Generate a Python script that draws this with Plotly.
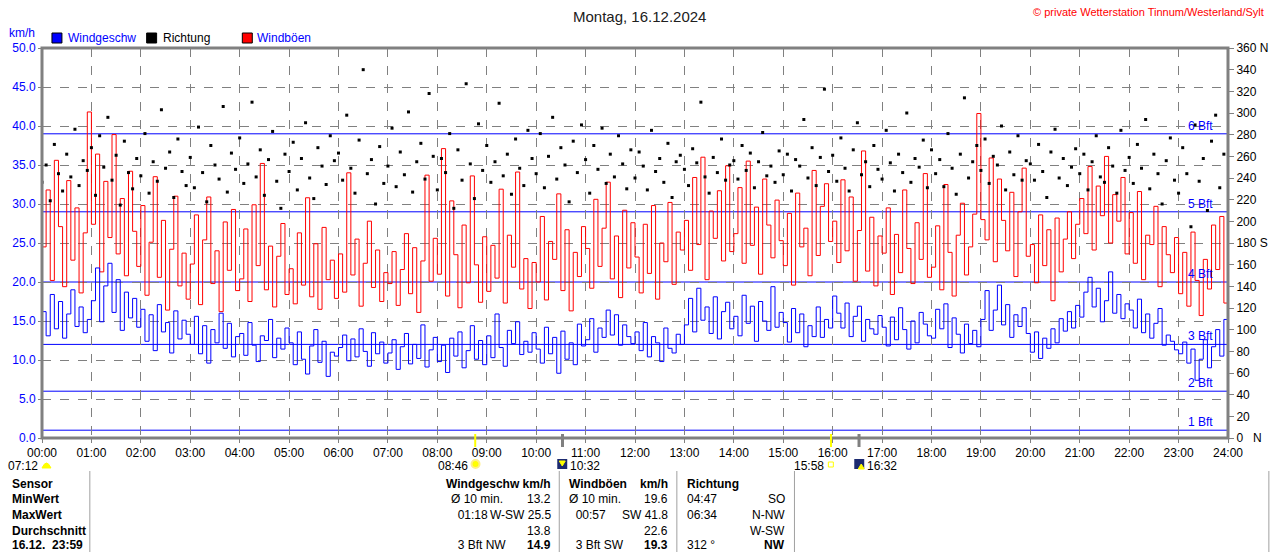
import plotly.graph_objects as go

# Windgeschwindigkeit km/h, 5-Minuten-Werte (je Zeile eine Stunde) + Endwert 24:00
wind_speed = [
    16.2, 13.1, 18.4, 14.0, 17.5, 12.8, 15.9, 19.0, 14.3, 16.8, 13.5, 15.2,
    17.6, 21.8, 14.9, 19.5, 22.4, 16.1, 20.3, 13.8, 18.7, 15.4, 17.9, 14.2,
    16.5, 12.4, 15.8, 11.2, 17.1, 13.6, 14.8, 10.9, 16.3, 12.7, 15.1, 13.3,
    12.0, 15.6, 10.8, 14.4, 9.6, 13.9, 12.2, 16.0, 11.5, 14.7, 10.4, 13.0,
    13.4, 10.6, 14.8, 11.9, 9.8, 13.1, 12.5, 15.2, 10.3, 12.8, 11.4, 14.1,
    12.2, 9.4, 13.6, 10.1, 8.2, 11.8, 13.9, 9.7, 12.4, 7.9, 11.0, 10.5,
    11.6, 13.2, 9.9, 12.7, 10.4, 14.0, 11.1, 9.2, 13.5, 10.8, 12.3, 9.6,
    10.9, 12.6, 8.8, 11.7, 13.4, 9.5, 12.0, 10.2, 14.5, 9.1, 11.3, 12.9,
    9.8, 11.9, 8.4, 12.8, 10.5, 13.6, 9.0, 11.2, 14.4, 10.1, 12.5, 9.4,
    13.1, 10.3, 15.9, 11.6, 9.2, 13.8, 12.1, 14.9, 10.7, 12.4, 11.0, 13.5,
    11.4, 9.6, 14.2, 10.8, 12.9, 8.3, 13.7, 10.1, 12.2, 9.4, 14.6, 11.8,
    12.6, 15.3, 11.0, 14.1, 12.9, 16.4, 13.2, 15.8, 11.9, 14.5, 13.0, 12.1,
    13.6, 11.2, 14.8, 10.4, 13.0, 12.2, 9.8, 14.1, 11.5, 10.9, 13.3, 12.0,
    14.5, 17.9, 13.6, 19.2, 15.1, 16.8, 13.4, 18.1, 12.7, 16.2, 17.4, 14.0,
    15.6, 13.1, 18.3, 14.7, 16.9, 12.4, 17.5, 15.0, 13.8, 19.4, 14.2, 16.1,
    14.8, 12.3, 16.6, 13.5, 15.9, 11.7, 14.4, 13.0, 16.8, 12.9, 15.2, 14.1,
    18.2, 16.0, 14.1, 17.3, 13.0, 15.6, 16.9, 12.4, 15.2, 14.0, 13.3, 15.7,
    14.2, 11.8, 15.5, 12.6, 16.7, 13.9, 11.4, 15.0, 12.2, 16.1, 14.6, 13.1,
    12.8, 16.5, 14.0, 17.2, 11.6, 15.4, 13.3, 10.9, 14.6, 12.1, 13.8, 11.7,
    15.2, 18.9, 13.8, 16.4, 19.6, 14.5, 17.1, 12.9, 15.8, 14.3, 16.7, 13.4,
    11.0, 13.6, 10.2, 12.8, 11.5, 14.0, 12.2, 15.3, 13.7, 16.2, 14.1, 17.0,
    15.5, 18.7, 20.6, 16.8, 19.2, 14.9, 17.6, 21.3, 16.0, 18.4, 15.3, 17.2,
    16.4, 14.1, 17.8, 13.5, 15.9, 12.8, 14.7, 16.6, 11.9, 13.2, 12.4, 11.3,
    10.8, 12.3, 9.6, 11.4, 7.4, 10.1, 12.6, 9.0, 11.7, 13.9, 10.5, 15.2,
    11.0,
]

# Windböen km/h
wind_gusts = [
    24.5, 31.8, 20.2, 35.6, 27.1, 19.4, 33.0, 22.8, 29.5, 18.6, 26.3, 41.8,
    27.4, 36.4, 21.3, 32.9, 25.7, 38.9, 23.6, 30.7, 20.8, 34.2, 26.5, 22.0,
    29.8, 18.3, 25.1, 33.5, 20.6, 27.9, 16.4, 24.2, 31.0, 19.5, 23.7, 17.8,
    22.3, 28.6, 17.1, 25.4, 30.9, 19.8, 24.0, 16.2, 27.7, 21.5, 29.3, 18.9,
    20.4, 26.8, 17.5, 29.9, 22.1, 35.2, 19.0, 24.6, 16.8, 23.3, 27.5, 18.4,
    21.7, 17.2, 26.3, 19.6, 30.8, 18.1, 24.9, 16.5, 27.0, 20.3, 22.8, 17.9,
    23.6, 18.7, 34.0, 20.9, 25.5, 16.9, 22.4, 27.8, 19.3, 24.1, 17.5, 21.2,
    19.8, 23.9, 17.0, 21.6, 26.2, 18.5, 24.4, 16.1, 22.7, 33.7, 20.1, 25.6,
    21.0, 37.1, 18.2, 30.4, 23.5, 16.7, 27.3, 19.9, 33.6, 22.2, 17.4, 25.8,
    18.8, 24.7, 20.5, 31.9, 17.3, 26.0, 21.9, 34.1, 19.1, 23.0, 16.6, 22.5,
    20.0, 28.4, 17.7, 25.2, 22.9, 31.3, 18.9, 26.7, 16.3, 23.8, 20.7, 27.1,
    24.3, 19.2, 30.6, 22.0, 26.9, 32.8, 20.4, 25.9, 18.0, 29.2, 21.8, 27.6,
    23.2, 18.6, 27.4, 21.1, 29.8, 17.8, 25.0, 22.6, 30.2, 19.7, 26.4, 24.1,
    27.9, 21.5, 33.4, 24.8, 36.0, 20.3, 29.1, 25.6, 31.7, 22.7, 34.9, 23.9,
    26.2, 32.1, 22.4, 35.5, 24.7, 29.6, 21.0, 33.2, 27.3, 23.1, 30.5, 25.3,
    22.1, 28.8, 19.6, 31.4, 24.5, 26.9, 20.8, 34.3, 23.4, 29.7, 32.6, 25.2,
    27.8, 22.5, 33.1, 24.0, 30.9, 20.1, 26.6, 36.8, 21.4, 28.3, 19.5, 25.9,
    23.7, 29.5, 18.4, 26.1, 21.2, 31.8, 24.3, 19.8, 27.6, 22.9, 33.9, 20.6,
    21.9, 27.2, 19.0, 32.5, 23.8, 18.2, 26.0, 30.1, 20.9, 24.5, 28.7, 41.6,
    28.0, 25.4, 35.9, 22.6, 33.2, 27.9, 24.0, 31.5, 20.7, 29.0, 34.6, 23.3,
    24.8, 19.9, 28.6, 22.1, 26.7, 17.6, 28.2, 21.3, 25.5, 29.0, 23.0, 27.4,
    30.7, 26.2, 34.8, 24.1, 32.3, 28.5, 36.1, 25.0, 31.2, 27.8, 33.4, 23.6,
    28.9, 22.4, 31.6, 20.3, 26.0, 24.8, 29.7, 19.4, 27.1, 23.5, 21.2, 25.7,
    18.5, 23.8, 16.9, 26.4, 20.2, 15.7, 22.9, 19.1, 27.3, 21.6, 28.4, 17.3,
    18.0,
]

# Windrichtung in Grad
wind_dir = [
    236, 252, 219, 271, 244, 228, 262, 241, 285, 233, 256, 247,
    268, 224, 279, 250, 296, 238, 261, 215, 274, 245, 230, 258,
    242, 281, 226, 255, 237, 303, 249, 264, 222, 276, 246, 233,
    259, 231, 287, 245, 218, 270, 252, 239, 306, 227, 263, 248,
    277, 235, 253, 310, 241, 266, 224, 257, 283, 237, 212, 262,
    246, 273, 229, 258, 291, 240, 221, 268, 251, 234, 279, 256,
    263, 238, 298, 249, 226, 275, 340, 244, 257, 216, 269, 235,
    251, 286, 232, 264, 243, 301, 227, 255, 272, 239, 318, 260,
    229, 258, 245, 281, 212, 266, 238, 327, 253, 221, 290, 247,
    270, 236, 255, 309, 242, 262, 225, 276, 249, 233, 284, 258,
    244, 281, 231, 260, 296, 239, 268, 252, 218, 274, 245, 289,
    257, 226, 270, 248, 286, 235, 262, 241, 279, 253, 230, 266,
    240, 264, 251, 229, 284, 246, 258, 236, 272, 222, 255, 261,
    248, 233, 267, 254, 310, 241, 226, 259, 245, 276, 238, 252,
    256, 239, 270, 247, 263, 231, 255, 282, 242, 251, 236, 265,
    243, 262, 228, 257, 251, 294, 240, 268, 233, 259, 322, 246,
    261, 237, 277, 249, 228, 266, 291, 243, 255, 232, 270, 248,
    239, 284, 254, 228, 262, 245, 300, 236, 258, 250, 275, 231,
    266, 244, 257, 232, 281, 249, 225, 262, 314, 240, 255, 270,
    247, 276, 235, 260, 252, 288, 229, 264, 243, 279, 238, 256,
    253, 238, 271, 246, 222, 264, 285, 240, 258, 233, 250, 267,
    244, 262, 229, 255, 279, 241, 236, 268, 251, 226, 284, 247,
    259, 235, 271, 249, 294, 230, 262, 244, 216, 256, 277, 238,
    226, 268, 244, 195, 289, 237, 258, 210, 274, 298, 231, 262,
]

hour_labels = ["%02d:00" % h for h in range(25)]
dir_ticks = list(range(0, 361, 20))
dir_labels = {0: "0   N", 180: "180 S", 360: "360 N"}

bft_levels = [1, 6, 12, 20, 29, 39]
bft_names = ["1 Bft", "2 Bft", "3 Bft", "4 Bft", "5 Bft", "6 Bft"]

# Sonne / Mond (Stunden)
sunrise, sunset = 8 + 46 / 60, 15 + 58 / 60
moonset, moonrise = 10 + 32 / 60, 16 + 32 / 60

table_rows = ["Sensor", "MinWert", "MaxWert", "Durchschnitt", "16.12.  23:59"]
speed_left = ["", "Ø 10 min.", "  01:18", "", "  3 Bft NW"]
speed_right = ["Windgeschw km/h", "13.2", "W-SW 25.5", "13.8", "<b>14.9</b>"]
gust_left = ["<b>Windböen</b>", "Ø 10 min.", "  00:57", "", "  3 Bft SW"]
gust_right = ["<b>km/h</b>", "19.6", "SW 41.8", "22.6", "<b>19.3</b>"]
dir_left = ["<b>Richtung</b>", "04:47", "06:34", "", "312 °"]
dir_right = ["", "SO", "N-NW", "W-SW", "<b>NW</b>"]

t5 = [i / 12 for i in range(len(wind_speed))]
t_dir = [i / 12 for i in range(len(wind_dir))]

BLUE = "#0000ff"
RED = "#ff0000"
GRAY = "#808080"
FONT = "Liberation Sans, Arial, sans-serif"

fig = go.Figure()

fig.add_trace(go.Scatter(x=t5, y=wind_gusts, mode="lines", line_shape="hv",
                         line=dict(color=RED, width=1), name="Windböen"))
fig.add_trace(go.Scatter(x=t5, y=wind_speed, mode="lines", line_shape="hv",
                         line=dict(color=BLUE, width=1), name="Windgeschw"))
fig.add_trace(go.Scatter(x=t_dir, y=wind_dir, mode="markers", yaxis="y2",
                         marker=dict(color="black", size=3, symbol="square"),
                         name="Richtung"))

# pixel helpers (plot area 40..1230 x 48..438)
def px(x):
    return (x - 40) / 1190


def py(y):
    return (438 - y) / 390


def text(x, y, s, color="black", size=12, anchor="left"):
    fig.add_annotation(x=px(x), y=py(y), xref="paper", yref="paper", text=s,
                       showarrow=False, xanchor=anchor, yanchor="middle",
                       font=dict(color=color, size=size, family=FONT))


shapes = []
# Beaufort lines
for lvl, name in zip(bft_levels, bft_names):
    shapes.append(dict(type="line", xref="paper", yref="y", x0=0, x1=1, y0=lvl, y1=lvl,
                       line=dict(color=BLUE, width=1), layer="below"))
    fig.add_annotation(x=px(1217), y=lvl, xref="paper", yref="y", text=name,
                       showarrow=False, xanchor="right", yanchor="bottom", yshift=-1,
                       font=dict(color=BLUE, size=12, family=FONT))

# frame
shapes.append(dict(type="rect", xref="paper", yref="paper", x0=0, x1=1, y0=0, y1=1,
                   line=dict(color=GRAY, width=3)))

# sun / moon marks on the time axis
for t, c, w in [(sunrise, "#ffff00", 2), (sunset, "#ffff00", 2),
                (moonset, GRAY, 3), (moonrise, GRAY, 3)]:
    shapes.append(dict(type="line", xref="x", yref="paper", x0=t, x1=t,
                       y0=py(447), y1=py(434), line=dict(color=c, width=w)))

# legend boxes
for x0, col in [(50, BLUE), (145, "black"), (241, RED)]:
    shapes.append(dict(type="rect", xref="paper", yref="paper", x0=px(x0), x1=px(x0 + 10),
                       y0=py(43), y1=py(33), fillcolor=col, line=dict(color="black", width=1)))
text(64, 38, "Windgeschw", BLUE)
text(159, 38, "Richtung", "black")
text(254, 38, "Windböen", BLUE)
text(5, 33, "km/h", BLUE)

text(640, 16, "Montag, 16.12.2024", "#202020", 15, "center")
text(1268, 12, "© private Wetterstation Tinnum/Westerland/Sylt", RED, 11, "right")

# sun / moon icons
shapes.append(dict(type="path", xref="paper", yref="paper",
                   path="M %f,%f Q %f,%f %f,%f Z" % (px(40), py(468), px(44.5), py(458), px(49), py(468)),
                   fillcolor="#ffff00", line=dict(color="#ffff00", width=1)))
shapes.append(dict(type="circle", xref="paper", yref="paper", x0=px(471), x1=px(479),
                   y0=py(468), y1=py(460), fillcolor="#ffff00", line=dict(color="#ffee88", width=2)))
for x0, up in [(557, False), (855, True)]:
    shapes.append(dict(type="rect", xref="paper", yref="paper", x0=px(x0), x1=px(x0 + 10),
                       y0=py(469), y1=py(459), fillcolor="#1c2a70", line=dict(width=0)))
    if up:
        p = "M %f,%f L %f,%f L %f,%f Z" % (px(x0 + 4), py(469), px(x0 + 7), py(464), px(x0 + 10), py(469))
    else:
        p = "M %f,%f L %f,%f L %f,%f Z" % (px(x0 + 2), py(461), px(x0 + 5), py(466), px(x0 + 8), py(461))
    shapes.append(dict(type="path", xref="paper", yref="paper", path=p,
                       fillcolor="#ffff00", line=dict(color="#ffff00", width=1)))
shapes.append(dict(type="rect", xref="paper", yref="paper", x0=px(829), x1=px(834),
                   y0=py(467), y1=py(462), line=dict(color="#ffff00", width=1)))
text(38, 466, "07:12", anchor="right")
text(469, 466, "08:46", anchor="right")
text(568, 466, "10:32")
text(827, 466, "15:58", anchor="right")
text(866, 466, "16:32")

# table
row_y = [484, 499.5, 515, 530.5, 545]
for x0 in [88, 559, 677, 795, 1271]:
    shapes.append(dict(type="line", xref="paper", yref="paper", x0=px(x0), x1=px(x0),
                       y0=py(556), y1=py(471), line=dict(color="#a0a0a0", width=1)))
for y, r, a, b, c, d, e, f in zip(row_y, table_rows, speed_left, speed_right,
                                  gust_left, gust_right, dir_left, dir_right):
    text(8, y, "<b>%s</b>" % r)
    text(448, y, a)
    text(553, y, "<b>%s</b>" % b if y == row_y[0] else b, anchor="right")
    text(567, y, c)
    text(670, y, d, anchor="right")
    text(685, y, e)
    text(788, y, f, anchor="right")

fig.update_layout(
    width=1280, height=552, autosize=False,
    margin=dict(l=40, r=50, t=48, b=114),
    plot_bgcolor="white", paper_bgcolor="white",
    showlegend=False,
    font=dict(family=FONT, size=12, color="black"),
    shapes=shapes,
    xaxis=dict(range=[0, 24], tickvals=list(range(25)), ticktext=hour_labels,
               showgrid=True, gridcolor=GRAY, griddash="dash", gridwidth=1,
               zeroline=False, showline=False, ticks="outside", ticklen=4,
               tickcolor=GRAY, tickfont=dict(size=12, color="black")),
    yaxis=dict(range=[0, 50], dtick=5, tickformat=".1f",
               showgrid=True, gridcolor=GRAY, griddash="dash", gridwidth=1,
               zeroline=False, showline=False, ticks="outside", ticklen=3,
               tickcolor=GRAY, tickfont=dict(size=12, color=BLUE)),
    yaxis2=dict(range=[0, 360], overlaying="y", side="right",
                tickvals=dir_ticks, ticktext=[dir_labels.get(v, str(v)) for v in dir_ticks],
                showgrid=False, zeroline=False, showline=False, ticks="outside",
                ticklen=5, tickcolor=GRAY, tickfont=dict(size=12, color="black")),
)

fig.write_html("out.html", config={"displayModeBar": False},
               post_script="document.body.style.margin='0';")
